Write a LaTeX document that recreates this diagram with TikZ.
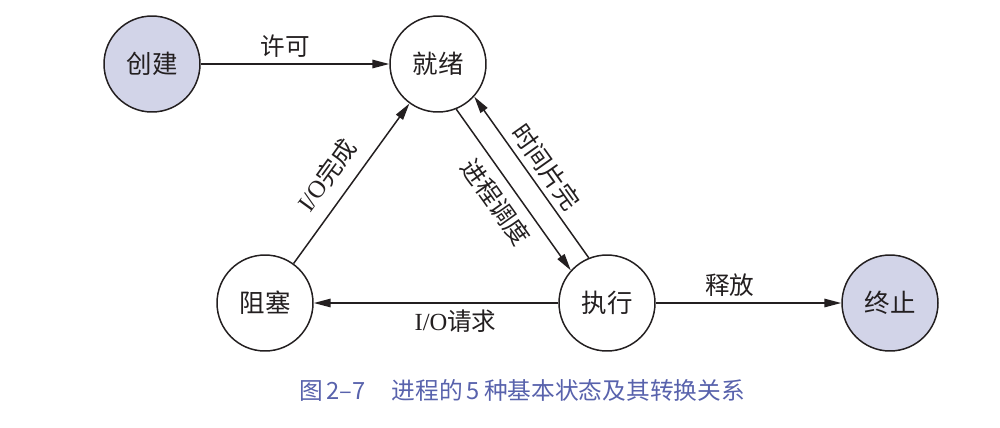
\documentclass[tikz,border=0pt]{standalone}
\usepackage{fontspec}
\setmainfont{Liberation Serif}
\newfontfamily\cjk{Noto Sans CJK SC}
\usetikzlibrary{arrows.meta, positioning}
\definecolor{statefill}{RGB}{210, 212, 232}
\definecolor{captionblue}{RGB}{88, 98, 172}
\definecolor{darkgray}{RGB}{35, 31, 32}

\begin{document}
\begin{tikzpicture}[x=0.02cm, y=-0.02cm,
        pstate/.style={circle, draw=darkgray, fill=white, line width=0.85pt, minimum size=1.92cm, inner sep=0pt, font=\cjk\fontsize{14.5}{16}\selectfont, text=darkgray},
        edgestate/.style={pstate, fill=statefill},
        arrow/.style={-{Triangle[length=3.4mm, width=1.7mm]}, line width=0.85pt, draw=darkgray},
        lbl/.style={font=\cjk\fontsize{14}{16}\selectfont, text=darkgray}
    ]
        \useasboundingbox (0,0) rectangle (1000,427);
        \node[edgestate] (create) at (152,64) {创建};
        \node[pstate] (ready) at (438,64) {就绪};
        \node[pstate] (block) at (265,303) {阻塞};
        \node[pstate] (run) at (607,303) {执行};
        \node[edgestate] (exit) at (890,303) {终止};

        \draw[arrow] (create) -- node[lbl, above, pos=0.45] {许可} (ready);
        \draw[arrow] (ready.-68) -- node[lbl, sloped, below=2pt] {进程调度} (run.138);
        \draw[arrow] (run.112) -- node[lbl, sloped, above] {时间片完} (ready.-42);
        \draw[arrow] (block) -- node[lbl, sloped, above=4pt, pos=0.46] {{\rmfamily I/O}完成} (ready);
        \draw[arrow] (run) -- node[lbl, below, pos=0.42] {{\rmfamily I/O}请求} (block);
        \draw[arrow] (run) -- node[lbl, above, pos=0.4] {释放} (exit);

        % caption
        \node[font=\cjk\fontsize{13.5}{15}\selectfont, text=captionblue] (caption) at (522,390) {图\,2–7\hspace{1.1em}进程的\,5\,种基本状态及其转换关系};
    \end{tikzpicture}
\end{document}
